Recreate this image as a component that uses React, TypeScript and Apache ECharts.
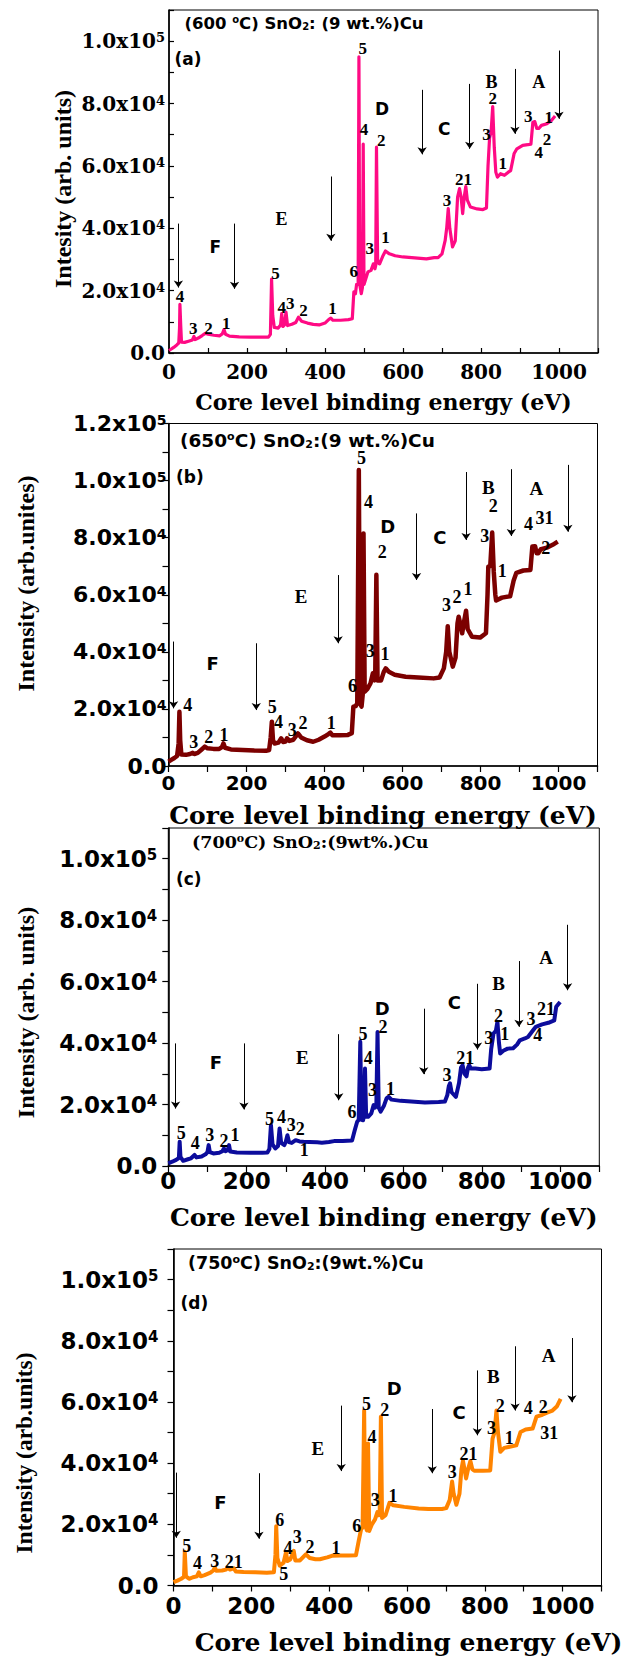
import React, { useEffect, useRef } from 'react';
import * as echarts from 'echarts';

const SERIF = 'DejaVu Serif';
const SANS = 'DejaVu Sans';
const TIMES = 'Liberation Serif';

// ---------- spectra [binding energy (eV), intensity] ----------
const specA: number[][] = [
  [0, 800], [5, 1200], [12, 1800], [20, 2600], [25, 3200], [27, 8000], [28, 15600], [30, 9000], [32, 3500],
  [40, 3400], [50, 3800], [60, 4200], [64, 5300], [67, 4300], [75, 4800], [85, 5600], [93, 6300], [100, 6000],
  [115, 5700], [130, 5500], [137, 6200], [141, 7500], [145, 6000], [155, 5400], [180, 5200], [210, 5100],
  [240, 5100], [255, 5100], [260, 6000], [263, 23700], [266, 12000], [270, 8200], [280, 8000], [286, 9000],
  [289, 12600], [292, 8500], [296, 9000], [300, 13100], [304, 8800], [315, 9200], [325, 9800], [332, 11500],
  [340, 10200], [355, 9600], [370, 9200], [385, 9000], [400, 9600], [410, 10800], [415, 11200], [420, 10500],
  [440, 10500], [460, 10700], [470, 11000], [474, 19600], [478, 19000], [481, 22000], [485, 22000], [487, 95000],
  [489, 22000], [493, 19000], [496, 21000], [498, 67000], [500, 22000], [505, 24000], [510, 26000], [518, 26500],
  [524, 28600], [528, 27000], [530, 28000], [532, 66000], [535, 29000], [540, 28600], [548, 31000], [555, 32700],
  [565, 31800], [580, 31200], [600, 30800], [630, 30500], [660, 30200], [680, 30600], [690, 30600], [700, 31800],
  [708, 36000], [712, 40000], [716, 46300], [720, 40000], [727, 34000], [734, 36000], [740, 50000], [745, 52700],
  [749, 50000], [753, 44700], [757, 50000], [761, 53400], [765, 49000], [773, 46800], [790, 46200], [805, 46000],
  [814, 46500], [818, 60000], [822, 69000], [826, 71000], [830, 79000], [834, 66000], [838, 58000], [842, 56400],
  [850, 57500], [860, 57000], [870, 58000], [876, 58500], [885, 64000], [892, 65500], [907, 66600], [920, 66800],
  [928, 67000], [933, 74000], [938, 74200], [943, 72000], [948, 72000], [955, 73000], [969, 73500], [980, 74500],
  [990, 76000],
];
const specB: number[][] = [
  [0, 1500], [8, 2200], [15, 2800], [22, 3500], [26, 8000], [28, 19000], [30, 9000], [33, 4000], [45, 3900],
  [55, 4200], [62, 4600], [66, 4200], [75, 4600], [85, 5800], [93, 6800], [100, 6200], [115, 6000], [130, 6000],
  [137, 6600], [141, 7900], [145, 6400], [160, 5800], [190, 5600], [220, 5400], [250, 5300], [258, 5600],
  [262, 10000], [265, 15500], [268, 9000], [272, 7900], [282, 8200], [289, 9700], [294, 8400], [300, 8600],
  [304, 9700], [310, 8800], [320, 9200], [332, 11400], [340, 10000], [355, 9000], [371, 8500], [385, 9200],
  [400, 10300], [410, 11200], [415, 11700], [420, 10800], [440, 10800], [460, 10900], [470, 11500], [474, 20800],
  [480, 21000], [484, 22000], [488, 103700], [491, 22000], [495, 20800], [498, 25000], [500, 81500], [503, 26000],
  [510, 27000], [518, 29000], [524, 32500], [528, 30000], [530, 31000], [533, 67000], [536, 30000], [545, 30000],
  [552, 33000], [557, 34200], [565, 33000], [580, 32000], [608, 31300], [640, 31000], [680, 30700], [695, 31000],
  [706, 34200], [712, 40000], [716, 49000], [720, 40000], [729, 34800], [736, 38000], [741, 50000], [744, 52300],
  [748, 50000], [753, 46500], [757, 50000], [763, 54400], [767, 48000], [778, 45300], [799, 45000], [814, 46500],
  [818, 60000], [820, 69800], [825, 70000], [830, 81800], [834, 68000], [838, 60000], [840, 58000], [855, 59000],
  [876, 59500], [885, 65000], [892, 67700], [910, 68500], [928, 68700], [933, 76900], [940, 77000], [944, 74500],
  [948, 74500], [955, 76000], [970, 76500], [985, 77500], [998, 78600],
];
const specC: number[][] = [
  [0, 870], [10, 1400], [20, 2000], [27, 2600], [29, 7900], [31, 3000], [38, 1700], [50, 2200], [58, 2500],
  [67, 3600], [72, 2800], [85, 3100], [95, 3800], [100, 4500], [103, 6800], [106, 4500], [115, 4100], [130, 4300],
  [138, 4800], [142, 5700], [146, 4800], [152, 5200], [155, 6800], [158, 4700], [175, 4400], [210, 4300],
  [240, 4300], [253, 4400], [258, 5500], [262, 13300], [266, 7000], [273, 5700], [280, 6500], [284, 12200],
  [288, 7500], [296, 6800], [300, 8000], [304, 10000], [308, 7800], [315, 7500], [325, 8400], [335, 8000],
  [345, 7900], [360, 7800], [380, 7700], [392, 7600], [410, 7800], [423, 8100], [445, 8100], [469, 8300],
  [476, 11700], [482, 14400], [486, 15000], [490, 40400], [493, 15000], [497, 14900], [499, 16000], [502, 31700],
  [505, 16000], [510, 16000], [518, 17100], [524, 19800], [528, 19000], [531, 20000], [534, 43600], [537, 19000],
  [542, 17700], [550, 19500], [557, 22000], [562, 22500], [570, 21600], [593, 21200], [620, 21000], [655, 20700],
  [690, 20800], [706, 21000], [712, 23000], [716, 26000], [719, 26900], [723, 24000], [734, 22500], [742, 27000],
  [747, 32000], [751, 32800], [756, 30000], [761, 29200], [765, 32000], [768, 32800], [772, 31700], [784, 31700],
  [800, 31500], [820, 31700], [824, 38000], [830, 43100], [836, 44000], [840, 46900], [844, 40000], [847, 36600],
  [855, 37500], [866, 38200], [880, 38300], [890, 39500], [897, 40900], [910, 41500], [918, 42000], [930, 44000],
  [938, 45300], [954, 46100], [970, 46600], [985, 47400], [990, 51800], [1000, 53400],
];
const specD: number[][] = [
  [0, 1080], [10, 1600], [20, 2200], [27, 2800], [29, 11000], [32, 3000], [40, 2200], [50, 2700], [60, 3000],
  [65, 4300], [70, 3000], [80, 3400], [95, 4200], [103, 5000], [106, 5900], [110, 4800], [125, 4900], [135, 5200],
  [139, 5900], [145, 5200], [155, 5600], [160, 4600], [180, 4400], [210, 4300], [240, 4200], [258, 4300],
  [262, 10000], [264, 19400], [267, 9000], [273, 6500], [283, 7500], [289, 10800], [293, 8000], [300, 8500],
  [309, 11300], [313, 8200], [325, 8200], [340, 10200], [350, 9000], [365, 8600], [376, 8600], [395, 9200],
  [407, 9700], [430, 9800], [450, 9800], [469, 9900], [476, 14600], [482, 18300], [486, 19000], [490, 57200],
  [493, 19400], [497, 18000], [500, 46400], [503, 17800], [510, 20000], [518, 21600], [524, 24000], [528, 23000],
  [530, 24000], [533, 55200], [536, 22100], [545, 23000], [555, 27000], [565, 26200], [593, 25700], [630, 25200],
  [655, 25000], [690, 25000], [701, 25300], [710, 28000], [716, 34000], [720, 30000], [727, 26400], [735, 30000],
  [740, 38000], [744, 40700], [748, 38000], [752, 35000], [757, 38000], [763, 40700], [768, 38000], [773, 37500],
  [795, 37500], [814, 37600], [820, 48000], [825, 50000], [830, 57200], [834, 50000], [840, 43700], [850, 45000],
  [861, 45300], [881, 45800], [892, 50200], [905, 51000], [923, 51300], [933, 55200], [948, 55800], [960, 56500],
  [974, 57200], [985, 58500], [995, 61000],
];

// ---------- arrows [x, yStart, yEnd] ----------
const arrowsA: number[][] = [[24, 41500, 21000], [168, 41500, 20600], [415, 56600, 36000], [649, 84400, 63700], [771, 86300, 65500], [887, 91100, 70300], [1000, 97000, 75100]];
const arrowsB: number[][] = [[13, 43600, 20200], [225, 43000, 19600], [435, 66900, 43000], [636, 88500, 65200], [763, 103000, 79200], [879, 104000, 80600], [1024, 105500, 82100]];
const arrowsC: number[][] = [[18.6, 39900, 18700], [193, 39900, 18400], [435, 42900, 21400], [652, 51200, 29900], [789, 59300, 37900], [895, 66700, 45300], [1019, 78500, 57200]];
const arrowsD: number[][] = [[7, 36900, 15600], [219.6, 36700, 15300], [431, 58800, 37400], [665, 57700, 36700], [781, 70300, 49100], [878, 78200, 57200], [1024, 80900, 59900]];

// ---------- region letters [x, y, text, 's' sans | 'r' serif] ----------
type Lab = [number, number, string, string?];
const lettersA: Lab[] = [[118.6, 34000, 'F', 's'], [288.7, 43000, 'E', 'r'], [546, 78300, 'D', 's'], [706, 71900, 'C', 's'], [827, 86900, 'B', 'r'], [948, 86900, 'A', 'r']];
const lettersB: Lab[] = [[113, 36000, 'F', 's'], [340, 59300, 'E', 'r'], [562, 83900, 'D', 's'], [696, 80100, 'C', 's'], [820, 97500, 'B', 'r'], [943, 97300, 'A', 'r']];
const lettersC: Lab[] = [[121.6, 33700, 'F', 's'], [342, 35300, 'E', 'r'], [546, 51300, 'D', 's'], [730, 53100, 'C', 's'], [843, 59300, 'B', 'r'], [964, 68000, 'A', 'r']];
const lettersD: Lab[] = [[120.6, 27000, 'F', 's'], [371, 44800, 'E', 'r'], [567, 64500, 'D', 's'], [734, 56600, 'C', 's'], [822, 68200, 'B', 'r'], [964, 75300, 'A', 'r']];

// ---------- peak numbers [x, y, text] ----------
const numsA: Lab[] = [[28, 18000, '4'], [62, 7800, '3'], [101, 7800, '2'], [147, 9600, '1'], [273, 25600, '5'], [289, 14500, '4'], [311, 15800, '3'], [345, 13700, '2'], [419, 14200, '1'], [474, 26000, '6'], [497, 97500, '5'], [500, 71600, '4'], [515, 33400, '3'], [544, 68000, '2'], [555, 37000, '1'], [713, 48900, '3'], [755, 55600, '21'], [814, 70000, '3'], [830, 81500, '2'], [856, 60900, '1'], [921, 75900, '3'], [974, 75600, '1'], [969, 68400, '2'], [948, 64400, '4']];
const numsB: Lab[] = [[49.5, 21400, '4'], [65, 8500, '3'], [103, 10000, '2'], [142, 10900, '1'], [266, 20600, '5'], [282, 15300, '4'], [317, 12600, '3'], [345, 15200, '2'], [417, 15200, '1'], [472, 28000, '6'], [495, 107800, '5'], [513, 92400, '4'], [517, 40400, '3'], [555, 39200, '1'], [548, 75100, '2'], [713, 56400, '3'], [740, 59300, '2'], [768, 61900, '1'], [811, 80600, '3'], [833, 91000, '2'], [856, 68400, '1'], [923, 84800, '4'], [964, 86800, '31'], [967, 76300, '2']];
const numsC: Lab[] = [[33, 10600, '5'], [69, 7400, '4'], [106, 10000, '3'], [142, 8200, '2'], [170, 10000, '1'], [258, 15200, '5'], [289, 16000, '4'], [314, 13300, '3'], [337, 12200, '2'], [347, 5200, '1'], [469, 17700, '6'], [497, 43100, '5'], [510, 35300, '4'], [521, 24700, '3'], [548, 45300, '2'], [567, 24900, '1'], [711, 29600, '3'], [758, 35000, '21'], [818, 41500, '3'], [843, 48700, '2'], [859, 43100, '1'], [926, 47900, '3'], [964, 51200, '21'], [943, 42600, '4']];
const numsD: Lab[] = [[34, 12900, '5'], [62, 7200, '4'], [106, 8100, '3'], [155, 7600, '21'], [273, 21400, '6'], [283.5, 3800, '5'], [294, 12200, '4'], [318, 15800, '3'], [350.5, 12700, '2'], [417.5, 12100, '1'], [471, 19400, '6'], [496, 59300, '5'], [510, 48600, '4'], [518.5, 28100, '3'], [543, 57400, '2'], [564, 29100, '1'], [716.5, 37200, '3'], [758, 42900, '21'], [817.5, 51500, '3'], [840, 58800, '2'], [863, 48300, '1'], [912, 58000, '4'], [950.5, 58300, '2'], [966, 49800, '31']];

// ---------- texts ----------
const X_NAME = 'Core level binding energy (eV)';
const Y_TITLES = ['Intesity (arb. units)', 'Intensity (arb.unites)', 'Intensity (arb. units)', 'Intensity (arb.units)'];
const HEADERS = ['(600 {o|o}C) SnO{d|2}: (9 wt.%)Cu', '(650{o|o}C) SnO{d|2}:(9 wt.%)Cu', '(700{o|o}C) SnO{d|2}:(9wt%.)Cu', '(750{o|o}C) SnO{d|2}:(9wt.%)Cu'];
const TAGS = ['(a)', '(b)', '(c)', '(d)'];
const Y_MAX = [110000, 120000, 110000, 110000];

const panels = [
  { spec: specA, color: '#ff0a84', lw: 3.2, arrows: arrowsA, letters: lettersA, nums: numsA,
    grid: { left: 169, top: 10, width: 429, height: 343 }, inside: true,
    tickFont: SERIF, yLabSize: 20, supSize: 13, yMargin: 4, xLabSize: 20, xMargin: 9,
    nameSize: 22, nameGap: 49, namePad: 0, numSize: 17, letSize: 18,
    yT: { x: 63, y: 189, size: 24 }, hd: { font: SANS, size: 16.5, x: 184.5, y: 23 }, tg: { x: 174.5, y: 59 } },
  { spec: specB, color: '#7c0000', lw: 4.5, arrows: arrowsB, letters: lettersB, nums: numsB,
    grid: { left: 168.5, top: 423.5, width: 429, height: 342.5 }, inside: false,
    tickFont: SANS, yLabSize: 22, supSize: 14, yMargin: 2, xLabSize: 20, xMargin: 7,
    nameSize: 25, nameGap: 49, namePad: 0, numSize: 18, letSize: 19,
    yT: { x: 26, y: 583.5, size: 24 }, hd: { font: SANS, size: 18.5, x: 180, y: 440 }, tg: { x: 176, y: 476.7 } },
  { spec: specC, color: '#0c0c9c', lw: 4, arrows: arrowsC, letters: lettersC, nums: numsC,
    grid: { left: 168.3, top: 828, width: 431, height: 338 }, inside: false,
    tickFont: SANS, yLabSize: 23, supSize: 15, yMargin: 11, xLabSize: 23, xMargin: 3,
    nameSize: 25, nameGap: 51, namePad: 0, numSize: 18, letSize: 19,
    yT: { x: 26, y: 1012.5, size: 24 }, hd: { font: SERIF, size: 17.5, x: 192, y: 841.7 }, tg: { x: 176, y: 879 } },
  { spec: specD, color: '#ff8400', lw: 4, arrows: arrowsD, letters: lettersD, nums: numsD,
    grid: { left: 173.5, top: 1249, width: 428, height: 340 }, inside: false,
    tickFont: SANS, yLabSize: 23, supSize: 15, yMargin: 15, xLabSize: 23, xMargin: 9,
    nameSize: 25, nameGap: 57, namePad: 42, numSize: 18, letSize: 19,
    yT: { x: 24, y: 1453, size: 23.5 }, hd: { font: SANS, size: 17.5, x: 188, y: 1262.7 }, tg: { x: 180.5, y: 1302.7 } },
];

const yFmt = (v: number) => {
  if (Math.abs(v) < 1) return '0.0';
  const k = Math.round(v / 10000);
  if (k % 2 !== 0) return '';
  const exp = k >= 10 ? 5 : 4;
  const m = (k * 10000 / Math.pow(10, exp)).toFixed(1);
  return `{m|${m}x10}{s|${exp}}`;
};
const xFmt = (v: number) => (Math.round(v) % 200 === 0 && v <= 1000 ? String(Math.round(v)) : '');

const plainLabel = { opacity: 1, textBorderWidth: 0, textBorderColor: 'transparent', textShadowBlur: 0, textShadowColor: 'transparent' };

function buildOption() {
  const grid: any[] = [];
  const xAxis: any[] = [];
  const yAxis: any[] = [];
  const series: any[] = [];
  const graphic: any[] = [];

  panels.forEach((p, i) => {
    grid.push({ left: p.grid.left, top: p.grid.top, width: p.grid.width, height: p.grid.height,
      show: true, borderColor: '#000', borderWidth: 1, backgroundColor: 'transparent' });
    const tick = { show: true, inside: p.inside, length: p.inside ? 5 : 6, lineStyle: { color: '#000', width: 1.2 } };
    xAxis.push({
      type: 'value', gridIndex: i, min: 0, max: 1100, interval: 100,
      axisLine: { show: true, onZero: false, lineStyle: { color: '#000', width: 1.6 } },
      axisTick: tick, splitLine: { show: false },
      axisLabel: { formatter: xFmt, fontFamily: p.tickFont, fontWeight: 'bold', fontSize: p.xLabSize, color: '#000', margin: p.xMargin },
      name: X_NAME, nameLocation: 'middle', nameGap: p.nameGap,
      nameTextStyle: { fontFamily: SERIF, fontWeight: 'bold', fontSize: p.nameSize, color: '#000', verticalAlign: 'middle', padding: [0, 0, 0, p.namePad] },
    });
    yAxis.push({
      type: 'value', gridIndex: i, min: 0, max: Y_MAX[i], interval: 10000,
      axisLine: { show: true, onZero: false, lineStyle: { color: '#000', width: 1.6 } },
      axisTick: tick, splitLine: { show: false },
      axisLabel: {
        formatter: yFmt, fontFamily: p.tickFont, fontWeight: 'bold', fontSize: p.yLabSize, color: '#000', margin: p.yMargin,
        rich: {
          m: { fontFamily: p.tickFont, fontWeight: 'bold', fontSize: p.yLabSize, color: '#000' },
          s: { fontFamily: p.tickFont, fontWeight: 'bold', fontSize: p.supSize, color: '#000', verticalAlign: 'top' },
        },
      },
    });
    series.push({
      type: 'line', xAxisIndex: i, yAxisIndex: i, data: p.spec, showSymbol: false, symbol: 'none',
      lineStyle: { color: p.color, width: p.lw, join: 'round' }, itemStyle: { color: p.color }, silent: true, z: 2,
      markLine: {
        silent: true, symbol: ['none', 'arrow'], symbolSize: 7, label: { show: false },
        lineStyle: { color: '#000', width: 1, type: 'solid', opacity: 1 }, itemStyle: { color: '#000' }, emphasis: { disabled: true },
        data: p.arrows.map(([x, y1, y2]) => [{ coord: [x, y1] }, { coord: [x, y2] }]),
      },
    });
    series.push({
      type: 'scatter', xAxisIndex: i, yAxisIndex: i, symbolSize: 0, silent: true, z: 5,
      itemStyle: { color: '#000', opacity: 1 },
      data: p.nums.map(([x, y, t]) => ({ value: [x, y], name: t })),
      label: { show: true, position: 'inside', formatter: '{b}', fontFamily: TIMES, fontWeight: 'bold', fontSize: p.numSize, color: '#000', ...plainLabel },
    });
    series.push({
      type: 'scatter', xAxisIndex: i, yAxisIndex: i, symbolSize: 0, silent: true, z: 5,
      itemStyle: { color: '#000', opacity: 1 },
      data: p.letters.map(([x, y, t, f]) => ({ value: [x, y], name: t,
        label: f === 's' ? { fontFamily: SANS, fontSize: p.letSize - 1 } : { fontFamily: TIMES, fontSize: p.letSize } })),
      label: { show: true, position: 'inside', formatter: '{b}', fontWeight: 'bold', fontSize: p.letSize, color: '#000', ...plainLabel },
    });

    graphic.push({
      type: 'text', x: p.yT.x, y: p.yT.y, rotation: Math.PI / 2, silent: true,
      style: { text: Y_TITLES[i], fill: '#000', fontFamily: TIMES, fontWeight: 'bold', fontSize: p.yT.size,
        align: 'center', verticalAlign: 'middle', textAlign: 'center', textVerticalAlign: 'middle' },
    });
    const hs = p.hd.size;
    graphic.push({
      type: 'text', x: p.hd.x, y: p.hd.y, silent: true,
      style: {
        text: HEADERS[i], fill: '#000', fontFamily: p.hd.font, fontWeight: 'bold', fontSize: hs,
        align: 'left', verticalAlign: 'middle', textAlign: 'left', textVerticalAlign: 'middle',
        rich: {
          o: { fontFamily: p.hd.font, fontWeight: 'bold', fontSize: Math.round(hs * 0.62), fill: '#000', verticalAlign: 'top' },
          d: { fontFamily: p.hd.font, fontWeight: 'bold', fontSize: Math.round(hs * 0.62), fill: '#000', verticalAlign: 'bottom' },
        },
      },
    });
    graphic.push({
      type: 'text', x: p.tg.x, y: p.tg.y, silent: true,
      style: { text: TAGS[i], fill: '#000', fontFamily: SANS, fontWeight: 'bold', fontSize: 17,
        align: 'left', verticalAlign: 'middle', textAlign: 'left', textVerticalAlign: 'middle' },
    });
  });

  return { animation: false, backgroundColor: '#fff', grid, xAxis, yAxis, series, graphic };
}

export default function App() {
  const ref = useRef<HTMLDivElement>(null);
  useEffect(() => {
    if (!ref.current) return;
    const chart = echarts.init(ref.current, undefined, { renderer: 'svg' });
    chart.setOption(buildOption() as any);
    return () => chart.dispose();
  }, []);
  return <div ref={ref} style={{ position: 'absolute', left: 0, top: 0, width: 629, height: 1656, background: '#fff' }} />;
}
